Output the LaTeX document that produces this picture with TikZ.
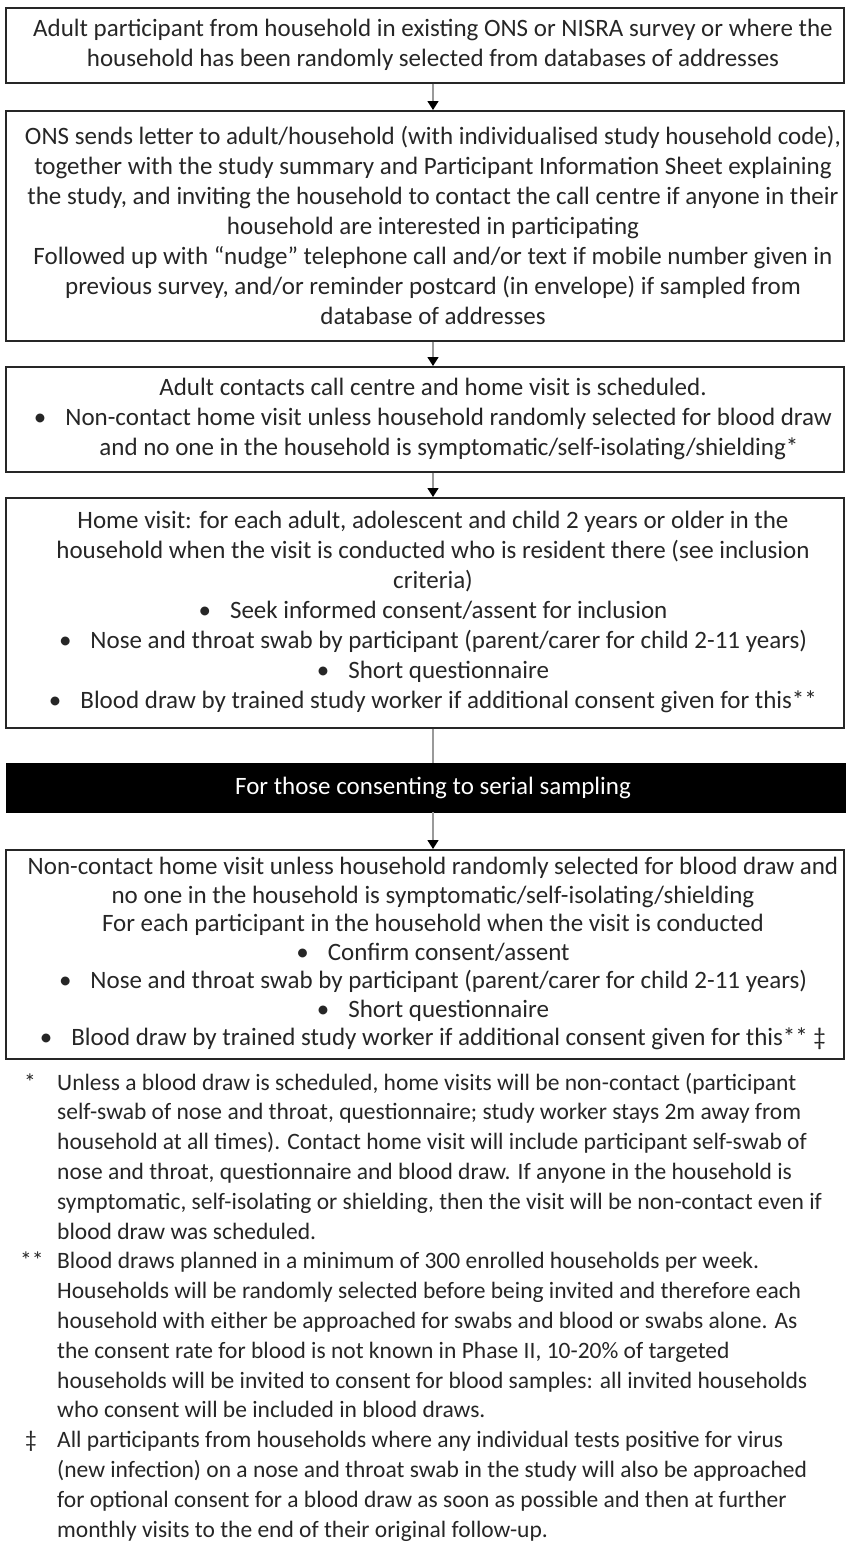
\documentclass[tikz,border=0pt]{standalone}
\usepackage{fontspec}
\setmainfont{Carlito}
\usetikzlibrary{arrows.meta}
\begin{document}
\begin{tikzpicture}[x=1pt,y=-1pt,
  box/.style={draw=black!85, line width=1.6pt, minimum width=838pt, inner sep=0pt, anchor=north},
  txt/.style={align=center, font=\fontsize{25}{30}\selectfont, inner sep=0pt, text=black!85},
  conn/.style={draw=black!40, line width=1.6pt, -{Triangle[width=11pt,length=9pt,color=black]}},
  plain/.style={draw=black!40, line width=1.6pt}]
\useasboundingbox (0,0) rectangle (846,1548);
% boxes
\node[box, minimum height=75pt]  (b1) at (425,7) {};
\node[box, minimum height=230pt] (b2) at (425,110) {};
\node[box, minimum height=105pt] (b3) at (425,366) {};
\node[box, minimum height=230pt] (b4) at (425,497) {};
\node[fill=black, draw=black, minimum width=840pt, minimum height=49pt, inner sep=0pt, anchor=north] (bar) at (426,763) {};
\node[box, minimum height=209pt] (b5) at (425,849) {};
% texts
\node[txt] (t1) at (433,44.5) {Adult participant from household in existing ONS or NISRA survey or where the\\household has been randomly selected from databases of addresses};
\node[txt] (t2) at (433,225) {ONS sends letter to adult/household (with individualised study household code),\\together with the study summary and Participant Information Sheet explaining\\the study, and inviting the household to contact the call centre if anyone in their\\household are interested in participating\\Followed up with “nudge” telephone call and/or text if mobile number given in\\previous survey, and/or reminder postcard (in envelope) if sampled from\\database of addresses};
\node[txt] (t3) at (433,418.5) {Adult contacts call centre and home visit is scheduled.\\•\hspace{19pt}Non-contact home visit unless household randomly selected for blood draw\\\hspace*{32pt}and no one in the household is symptomatic/self-isolating/shielding*};
\node[txt] (t4) at (433,612) {Home visit: for each adult, adolescent and child 2 years or older in the\\household when the visit is conducted who is resident there (see inclusion\\criteria)\\•\hspace{19pt}Seek informed consent/assent for inclusion\\•\hspace{19pt}Nose and throat swab by participant (parent/carer for child 2-11 years)\\•\hspace{19pt}Short questionnaire\\•\hspace{19pt}Blood draw by trained study worker if additional consent given for this**};
\node[txt, text=white] (tb) at (433,787.5) {For those consenting to serial sampling};
\node[txt, font=\fontsize{25}{28.5}\selectfont] (t5) at (433,953.5) {Non-contact home visit unless household randomly selected for blood draw and\\no one in the household is symptomatic/self-isolating/shielding\\For each participant in the household when the visit is conducted\\•\hspace{19pt}Confirm consent/assent\\•\hspace{19pt}Nose and throat swab by participant (parent/carer for child 2-11 years)\\•\hspace{19pt}Short questionnaire\\•\hspace{19pt}Blood draw by trained study worker if additional consent given for this** ‡};
% connectors
\draw[conn] (b1.south -| t1.center) -- (b2.north -| t1.center);
\draw[conn] (b2.south -| t1.center) -- (b3.north -| t1.center);
\draw[conn] (b3.south -| t1.center) -- (b4.north -| t1.center);
\draw[plain] (b4.south -| t1.center) -- (bar.north -| t1.center);
\draw[conn] (bar.south -| t1.center) -- (b5.north -| t1.center);
% footnotes
\node[anchor=north west, inner sep=0pt, text=black!85, font=\fontsize{23.5}{29.8}\selectfont] (notes) at (0,1069) {%
\begin{tabular}{@{}p{57pt}@{}l@{}}
\hspace*{24pt}* & Unless a blood draw is scheduled, home visits will be non-contact (participant\\
 & self-swab of nose and throat, questionnaire; study worker stays 2m away from\\
 & household at all times). Contact home visit will include participant self-swab of\\
 & nose and throat, questionnaire and blood draw. If anyone in the household is\\
 & symptomatic, self-isolating or shielding, then the visit will be non-contact even if\\
 & blood draw was scheduled.\\
\hspace*{20pt}** & Blood draws planned in a minimum of 300 enrolled households per week.\\
 & Households will be randomly selected before being invited and therefore each\\
 & household with either be approached for swabs and blood or swabs alone. As\\
 & the consent rate for blood is not known in Phase II, 10-20\% of targeted\\
 & households will be invited to consent for blood samples: all invited households\\
 & who consent will be included in blood draws.\\
\hspace*{25pt}‡ & All participants from households where any individual tests positive for virus\\
 & (new infection) on a nose and throat swab in the study will also be approached\\
 & for optional consent for a blood draw as soon as possible and then at further\\
 & monthly visits to the end of their original follow-up.
\end{tabular}};
\end{tikzpicture}
\end{document}
